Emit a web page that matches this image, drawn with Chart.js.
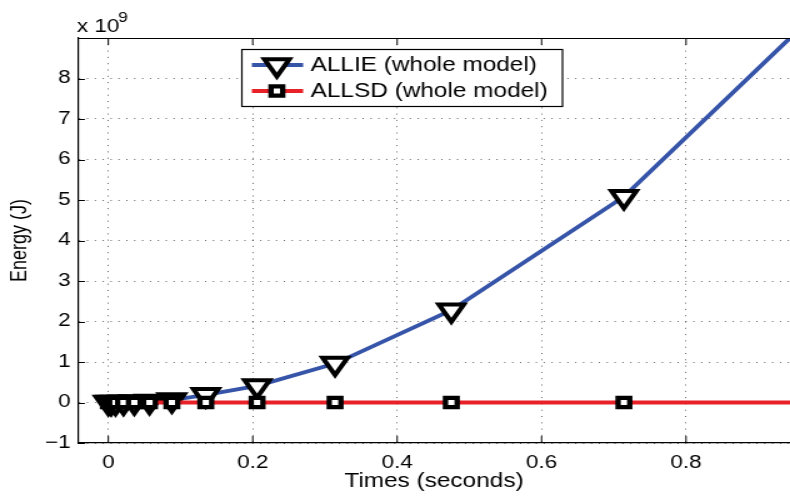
<!DOCTYPE html>
<html>
<head>
<meta charset="utf-8">
<script src="https://cdn.jsdelivr.net/npm/chart.js@4.4.0/dist/chart.umd.min.js"></script>
<style>
  html, body { margin: 0; background: #fff; overflow: hidden; }
  /* la figura original esta estirada en horizontal (~1.25), igual que la imagen */
  #wrap { width: 632px; height: 498px; transform: scale(1.25, 1); transform-origin: 0 0; }
</style>
</head>
<body>
<div id="wrap"><canvas id="chart" width="632" height="498"></canvas></div>
<script>
// tiempos de salida (s) y energias en unidades de 1e9 J
var times = [0, 0.004, 0.01, 0.021, 0.036, 0.057, 0.088, 0.135, 0.206, 0.314, 0.475, 0.714, 0.944];
var allie = [0, 0, 0.002, 0.005, 0.012, 0.025, 0.06, 0.19, 0.41, 0.96, 2.28, 5.08, 9.0];
var allsd = [0, 0, 0, 0, 0, 0, 0, 0, 0, 0, 0, 0, 0];
var hasMarker = [1, 1, 1, 1, 1, 1, 1, 1, 1, 1, 1, 1, 0];
var xTicks = [0, 0.2, 0.4, 0.6, 0.8];
var yTicks = [-1, 0, 1, 2, 3, 4, 5, 6, 7, 8];
var labelAllie = 'ALLIE (whole model)';
var labelAllsd = 'ALLSD (whole model)';

const FONT = 'Liberation Sans, Arial, Helvetica, sans-serif';
const BLUE = 'rgb(54, 84, 168)';
const RED = 'rgb(232, 32, 40)';

function toPoints(xs, ys) {
    return xs.map(function(x, i) { return {x: x, y: ys[i]}; });
}

// Dibuja lo que Chart.js no hace solo: marco superior, ticks hacia adentro, x10^9, leyenda
const extrasPlugin = {
    id: 'extras',
    afterDraw: function(chart) {
        const ctx = chart.ctx;
        const a = chart.chartArea;
        const sx = chart.scales.x, sy = chart.scales.y;
        ctx.save();
        ctx.strokeStyle = '#000';
        ctx.lineWidth = 1.2;
        ctx.beginPath();
        ctx.moveTo(a.left, a.top + 0.5); ctx.lineTo(a.right, a.top + 0.5);
        ctx.stroke();
        // ticks hacia adentro
        ctx.lineWidth = 1;
        xTicks.forEach(function(v) {
            const px = sx.getPixelForValue(v);
            ctx.beginPath();
            ctx.moveTo(px, a.bottom); ctx.lineTo(px, a.bottom - 7);
            ctx.moveTo(px, a.top); ctx.lineTo(px, a.top + 7);
            ctx.stroke();
        });
        yTicks.forEach(function(v) {
            const py = Math.round(sy.getPixelForValue(v)) + 0.5;
            ctx.beginPath();
            ctx.moveTo(a.left, py); ctx.lineTo(a.left + 5.5, py);
            ctx.stroke();
        });
        // multiplicador
        ctx.fillStyle = '#000';
        ctx.textBaseline = 'alphabetic';
        ctx.textAlign = 'left';
        ctx.font = '18px ' + FONT;
        ctx.fillText('x 10', 61.5, 32);
        ctx.font = '14px ' + FONT;
        ctx.fillText('9', 94.5, 22);
        // leyenda
        const bx = 193, by = 49, bw = 256.5, bh = 57;
        ctx.fillStyle = '#fff';
        ctx.fillRect(bx, by, bw, bh);
        ctx.strokeStyle = '#000';
        ctx.lineWidth = 1.2;
        ctx.strokeRect(bx + 0.5, by + 0.5, bw, bh);
        const rows = [
            {ds: chart.data.datasets[0], y: 65},
            {ds: chart.data.datasets[1], y: 91}
        ];
        rows.forEach(function(r) {
            ctx.strokeStyle = r.ds.borderColor;
            ctx.lineWidth = r.ds.borderWidth;
            ctx.beginPath();
            ctx.moveTo(201.5, r.y); ctx.lineTo(242.5, r.y);
            ctx.stroke();
            ctx.fillStyle = '#fff';
            ctx.strokeStyle = '#000';
            ctx.lineWidth = r.ds.pointBorderWidth;
            Chart.helpers.drawPoint(ctx, {
                pointStyle: r.ds.pointStyle,
                radius: r.ds.legendRadius,
                rotation: r.ds.pointRotation,
                borderWidth: r.ds.pointBorderWidth
            }, 221.5, r.y);
            ctx.fillStyle = '#000';
            ctx.font = '19.5px ' + FONT;
            ctx.textAlign = 'left';
            ctx.textBaseline = 'middle';
            ctx.fillText(r.ds.label, 248.5, r.y + 1);
        });
        ctx.restore();
    }
};

const ctx = document.getElementById('chart').getContext('2d');
new Chart(ctx, {
    type: 'line',
    data: {
        datasets: [{
            label: labelAllie,
            data: toPoints(times, allie),
            borderColor: BLUE,
            borderWidth: 3.8,
            pointStyle: 'triangle',
            pointRotation: 180,
            legendRadius: 11.5,
            pointRadius: hasMarker.map(function(m) { return m ? 11.5 : 0; }),
            pointBackgroundColor: '#fff',
            pointBorderColor: '#000',
            pointBorderWidth: 4,
            tension: 0,
            order: 1
        }, {
            label: labelAllsd,
            data: toPoints(times, allsd),
            borderColor: RED,
            borderWidth: 4,
            pointStyle: 'rect',
            pointRotation: 0,
            legendRadius: 6.6,
            pointRadius: hasMarker.map(function(m) { return m ? 6.6 : 0; }),
            pointBackgroundColor: '#fff',
            pointBorderColor: '#000',
            pointBorderWidth: 4.3,
            tension: 0,
            order: 0
        }]
    },
    options: {
        responsive: false,
        animation: false,
        layout: { autoPadding: false, padding: { top: 38, right: 0, left: 0, bottom: 0 } },
        plugins: {
            legend: { display: false },
            tooltip: { enabled: false }
        },
        scales: {
            x: {
                type: 'linear',
                min: -0.042,
                max: 0.944,
                afterBuildTicks: function(s) { s.ticks = xTicks.map(function(v) { return {value: v}; }); },
                afterFit: function(s) { s.height = 55; s.paddingLeft = 0; s.paddingRight = 0; },
                grid: { color: 'rgba(0,0,0,0.6)', lineWidth: 1, drawTicks: false },
                border: { display: true, color: '#000', width: 1.2, dash: [1, 5.3] },
                ticks: {
                    color: '#000',
                    font: { family: FONT, size: 18 },
                    padding: 9,
                    maxRotation: 0,
                    callback: function(v) { return String(Math.round(v * 10) / 10); }
                },
                title: {
                    display: true,
                    text: 'Times (seconds)',
                    color: '#000',
                    font: { family: FONT, size: 19.5 },
                    padding: { top: 0, bottom: 5 }
                }
            },
            y: {
                type: 'linear',
                min: -1,
                max: 9,
                afterBuildTicks: function(s) { s.ticks = yTicks.map(function(v) { return {value: v}; }); },
                afterFit: function(s) { s.width = 62.4; s.paddingTop = 0; s.paddingBottom = 0; },
                grid: { color: 'rgba(0,0,0,0.6)', lineWidth: 1, drawTicks: false },
                border: { display: true, color: '#000', width: 1.2, dash: [1, 5.3] },
                ticks: {
                    color: '#000',
                    font: { family: FONT, size: 18 },
                    padding: 6,
                    callback: function(v) { return v < 0 ? '\u2212' + Math.abs(v) : String(v); }
                },
                title: {
                    display: true,
                    text: 'Energy (J)',
                    color: '#000',
                    font: { family: FONT, size: 18 },
                    padding: { top: 5.5, bottom: 0 }
                }
            }
        }
    },
    plugins: [extrasPlugin]
});
</script>
</body>
</html>
